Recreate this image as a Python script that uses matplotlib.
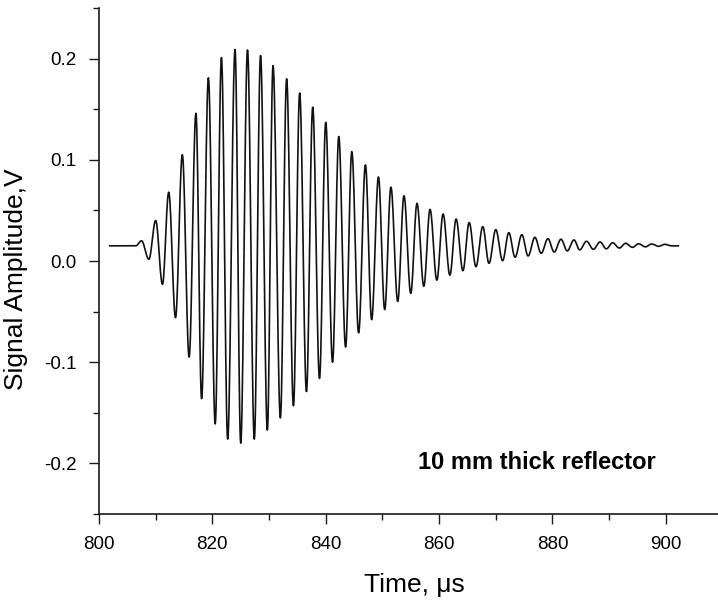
import numpy as np
import matplotlib.pyplot as plt
from matplotlib.ticker import MultipleLocator

plt.rcParams['font.family'] = ['Liberation Sans', 'DejaVu Sans']

peak_t = [807.5, 810.0, 812.3, 814.7, 817.1, 819.3, 821.6, 824.0, 826.2, 828.5,
          830.7, 833.1, 835.4, 837.7, 840.0, 842.3, 844.6, 847.0, 849.3, 851.5,
          853.8, 856.1, 858.4, 860.7, 863.0, 865.3, 867.7, 870.0, 872.3, 874.6,
          876.9, 879.2, 881.5, 883.8, 886.0, 888.4, 890.6, 892.9, 895.2, 897.5, 899.8]
peak_v = [0.020, 0.040, 0.068, 0.105, 0.146, 0.181, 0.201, 0.209, 0.2085, 0.203,
          0.193, 0.180, 0.166, 0.152, 0.137, 0.123, 0.108, 0.095, 0.083, 0.073,
          0.0645, 0.057, 0.051, 0.0465, 0.0415, 0.038, 0.034, 0.031, 0.028, 0.026,
          0.0234, 0.022, 0.0215, 0.0208, 0.0195, 0.0188, 0.018, 0.0175, 0.017, 0.0168, 0.0165]
trough_t = [808.8, 811.2, 813.5, 815.9, 818.1, 820.5, 822.7, 825.0, 827.4, 829.7,
            832.0, 834.3, 836.6, 838.9, 841.2, 843.5, 845.8, 848.1, 850.4, 852.7,
            855.0, 857.3, 859.6, 861.9, 864.2, 866.5, 868.8, 871.2, 873.4, 875.7,
            878.0, 880.3, 882.6, 884.8, 887.2, 889.5, 891.8, 894.1, 896.4, 898.7, 901.0]
trough_v = [0.0017, -0.023, -0.056, -0.095, -0.136, -0.161, -0.176, -0.180, -0.176, -0.167,
            -0.155, -0.143, -0.129, -0.116, -0.100, -0.085, -0.071, -0.058, -0.048, -0.040,
            -0.032, -0.025, -0.019, -0.014, -0.0096, -0.0056, -0.0023, 0.0003, 0.0037, 0.005,
            0.0076, 0.0089, 0.010, 0.011, 0.0116, 0.012, 0.0128, 0.0135, 0.014, 0.0145, 0.015]

baseline_v = 0.015
trace_start = 801.9
onset_t = 806.5
trace_end = 902.2

# knots: flat baseline, then alternating peaks / troughs
knot_t = [trace_start, onset_t]
knot_v = [baseline_v, baseline_v]
for pt, pv, tt, tv in zip(peak_t, peak_v, trough_t, trough_v):
    knot_t += [pt, tt]
    knot_v += [pv, tv]
knot_t.append(trace_end)
knot_v.append(baseline_v)

# half-cosine shape between consecutive extrema
t_all, v_all = [], []
for i in range(len(knot_t) - 1):
    s = np.linspace(0, 1, 16, endpoint=False)
    w = (1 - np.cos(np.pi * s)) / 2
    t_all.append(knot_t[i] + (knot_t[i + 1] - knot_t[i]) * s)
    v_all.append(knot_v[i] + (knot_v[i + 1] - knot_v[i]) * w)
t_all.append([knot_t[-1]])
v_all.append([knot_v[-1]])
t_all = np.concatenate(t_all)
v_all = np.concatenate(v_all)

fig = plt.figure(figsize=(7.18, 6.02), dpi=100)
ax = fig.add_axes([99 / 718, 88 / 602, 619 / 718, 506 / 602])

ax.plot(t_all, v_all, color='#111111', lw=1.2)

ax.set_xlim(800, 909.2)
ax.set_ylim(-0.25, 0.25)
ax.xaxis.set_major_locator(MultipleLocator(20))
ax.xaxis.set_minor_locator(MultipleLocator(10))
ax.yaxis.set_major_locator(MultipleLocator(0.1))
ax.yaxis.set_minor_locator(MultipleLocator(0.05))
ax.yaxis.set_major_formatter(lambda v, p: f'{v:.1f}')

for side in ['top', 'right']:
    ax.spines[side].set_visible(False)
for side in ['left', 'bottom']:
    ax.spines[side].set_linewidth(1.2)
    ax.spines[side].set_color('#1a1a1a')

ax.tick_params(which='major', direction='out', length=7, width=1.0,
               labelsize=13.5, pad=9, color='#1a1a1a')
ax.tick_params(which='minor', direction='out', length=4, width=1.0, color='#1a1a1a')

ax.set_xlabel('Time, \u03bcs', fontsize=19, va='center')
ax.set_ylabel('Signal Amplitude,V', fontsize=19, va='center')
ax.xaxis.set_label_coords(0.51, -0.14)
ax.yaxis.set_label_coords(-0.134, 0.464)

ax.text(877.3, -0.199, '10 mm thick reflector', fontsize=17, fontweight='bold',
        ha='center', va='center')

fig.savefig('out.png', dpi=100)
